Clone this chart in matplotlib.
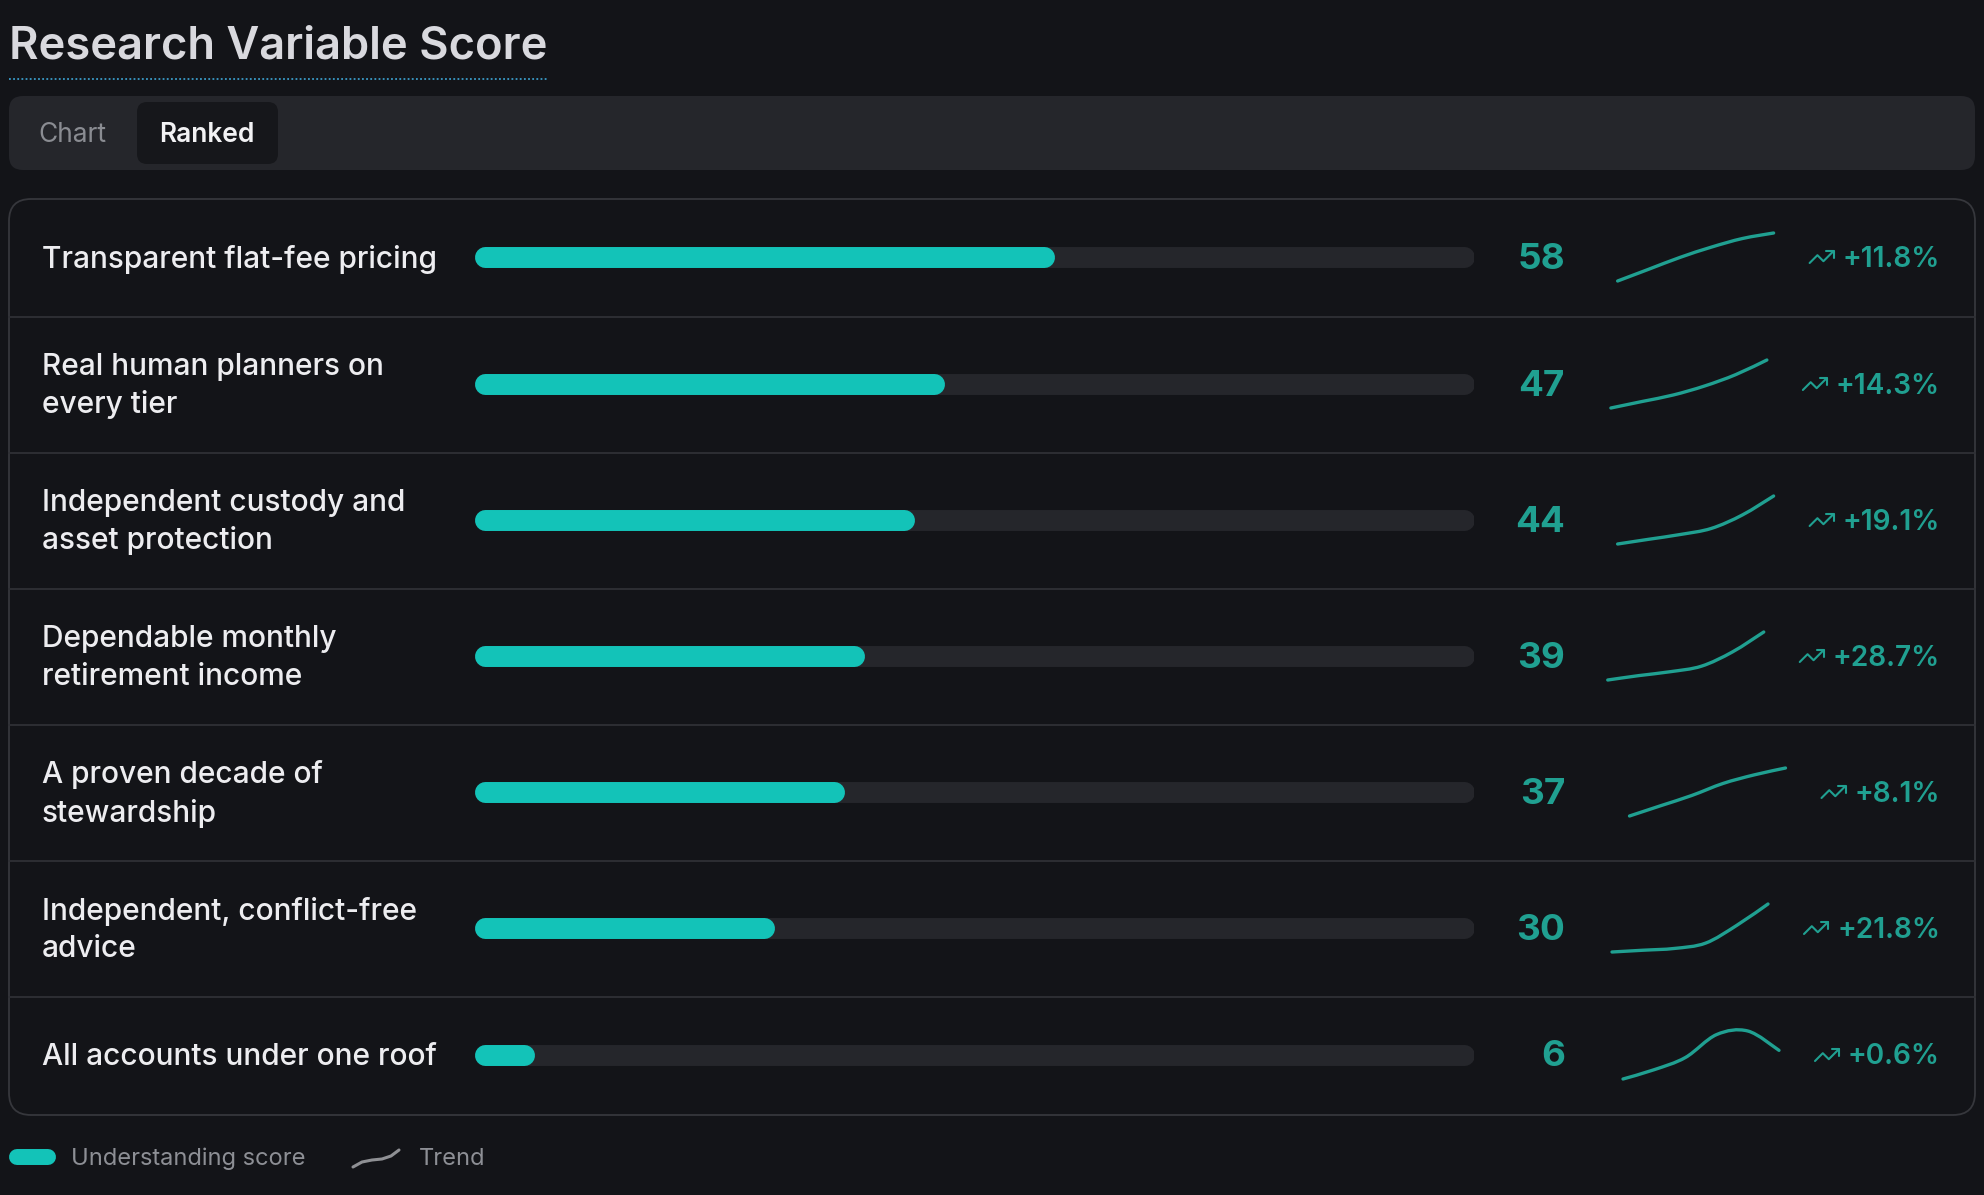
import numpy as np
import matplotlib.pyplot as plt
from matplotlib.patches import FancyBboxPatch, PathPatch
from matplotlib.path import Path

plt.rcParams['font.family'] = ['Inter', 'DejaVu Sans']

labels = ['Transparent flat-fee pricing',
          'Real human planners on every tier',
          'Independent custody and asset protection',
          'Dependable monthly retirement income',
          'A proven decade of stewardship',
          'Independent, conflict-free advice',
          'All accounts under one roof']
scores = [58, 47, 44, 39, 37, 30, 6]
changes = [11.8, 14.3, 19.1, 28.7, 8.1, 21.8, 0.6]

# trend history per row (6 periods, ends at current score)
trend_pricing = [51.9, 53.4, 54.9, 56.2, 57.3, 58.0]
trend_planners = [41.1, 41.9, 42.7, 43.8, 45.2, 47.0]
trend_custody = [36.9, 37.6, 38.3, 39.2, 41.2, 44.0]
trend_income = [30.3, 31.1, 31.8, 32.8, 35.4, 39.0]
trend_decade = [34.2, 34.8, 35.4, 36.1, 36.6, 37.0]
trend_advice = [24.6, 24.8, 25.0, 25.6, 27.6, 30.0]
trend_roof = [5.960, 5.973, 5.990, 6.022, 6.027, 6.000]
trends = [trend_pricing, trend_planners, trend_custody, trend_income,
          trend_decade, trend_advice, trend_roof]

BG = '#131418'
TRACK = '#25262b'
FILL = '#13c3b8'
TEAL = '#20a091'
W, H = 1984, 1195
DY = 2  # matplotlib 'center' sits a bit high vs the browser

fig = plt.figure(figsize=(W / 100, H / 100), dpi=100, facecolor=BG)
ax = fig.add_axes([0, 0, 1, 1])
ax.set_xlim(0, W)
ax.set_ylim(H, 0)
ax.axis('off')
r = fig.canvas.get_renderer()

# title + dotted underline
t = ax.text(9, 58, 'Research Variable Score', fontsize=32.6, fontweight='semibold',
            color='#d9d9de', va='baseline')
bb = t.get_window_extent(r)
ax.plot([9, bb.x1], [79, 79], ls=(0, (1, 1.3)), color='#3a9cc9', lw=1.3)

# tab bar
ax.add_patch(FancyBboxPatch((9, 96), 1966, 74, boxstyle='round,pad=0,rounding_size=14',
                            fc='#25262b', ec='none'))
ax.add_patch(FancyBboxPatch((137, 102), 141, 62, boxstyle='round,pad=0,rounding_size=10',
                            fc='#16171b', ec='none'))
ax.text(72, 133 + DY, 'Chart', ha='center', va='center', fontsize=19, color='#8a8c92')
ax.text(207, 133 + DY, 'Ranked', ha='center', va='center', fontsize=19, color='#f2f2f4',
        fontweight='semibold')


def wrap_px(s, maxw=408, size=21.5):
    # greedy wrap on measured pixel width
    lines, cur = [], ''
    for w in s.split():
        test = (cur + ' ' + w).strip()
        tmp = ax.text(0, 0, test, fontsize=size, fontweight='medium')
        wid = tmp.get_window_extent(r).width
        tmp.remove()
        if wid > maxw and cur:
            lines.append(cur)
            cur = w
        else:
            cur = test
    lines.append(cur)
    return lines


def smooth(xs, ys):
    # catmull-rom through the points, as cubic beziers
    pts = np.column_stack([xs, ys]).astype(float)
    n = len(pts)
    verts, codes = [pts[0]], [Path.MOVETO]
    for i in range(n - 1):
        p0, p1 = pts[max(i - 1, 0)], pts[i]
        p2, p3 = pts[i + 1], pts[min(i + 2, n - 1)]
        verts += [p1 + (p2 - p0) / 6, p2 - (p3 - p1) / 6, p2]
        codes += [Path.CURVE4] * 3
    return Path(verts, codes)


wrapped = [wrap_px(l) for l in labels]
heights = np.array([118 if len(w) == 1 else 136 for w in wrapped])
top = 199
tops = top + np.concatenate([[0], np.cumsum(heights)[:-1]])
centers = tops + heights / 2 - 1
bottom = top + heights.sum()

# panel
ax.add_patch(FancyBboxPatch((9, top), 1966, bottom - top, boxstyle='round,pad=0,rounding_size=22',
                            fc=BG, ec='#36373c', lw=1.3))
for y in tops[1:]:
    ax.plot([9, 1975], [y, y], color='#2f3035', lw=1.3)

# bars
bax = fig.add_axes([474 / W, 0, 1000 / W, 1])
bax.set_xlim(0, 100)
bax.set_ylim(H, 0)
bax.axis('off')
cap = 10.5 / 1000 * 100
for yc, s in zip(centers, scores):
    bax.plot([cap, 100 - cap], [yc, yc], color=TRACK, lw=15.1, solid_capstyle='round')
    bax.plot([cap, s - cap], [yc, yc], color=FILL, lw=15.1, solid_capstyle='round')

# lucide trending-up icon (24 grid)
icon_a = [(22, 7), (13.5, 15.5), (8.5, 10.5), (2, 17)]
icon_b = [(16, 7), (22, 7), (22, 13)]

for i, yc in enumerate(centers):
    ax.text(42, yc + DY, '\n'.join(wrapped[i]), fontsize=21.5, fontweight='medium',
            color='#ededf0', va='center', ha='left', linespacing=1.42)
    ax.text(1565, yc + DY, str(scores[i]), ha='right', va='center', fontsize=26.5,
            fontweight='bold', color=TEAL)
    tt = ax.text(1940, yc + DY, f'+{changes[i]}%', ha='right', va='center', fontsize=20.2,
                 fontweight='semibold', color=TEAL)
    x_text = tt.get_window_extent(r).x0
    sc = 1.2
    left = x_text - 9 - 20 * sc
    for pts in (icon_a, icon_b):
        ax.plot([left + (u - 2) * sc for u, v in pts], [yc + (v - 12) * sc for u, v in pts],
                color=TEAL, lw=1.5, solid_capstyle='round', solid_joinstyle='round')
    # sparkline
    x1 = left - 36
    x0 = x1 - 156
    tr = trends[i]
    sax = fig.add_axes([x0 / W, 1 - (yc + 24) / H, 156 / W, 48 / H])
    sax.axis('off')
    sax.add_patch(PathPatch(smooth(range(len(tr)), tr), fill=False, ec=TEAL, lw=2.4,
                            capstyle='round', joinstyle='round', clip_on=False))
    sax.set_xlim(0, len(tr) - 1)
    sax.set_ylim(min(tr), max(tr))

# legend
ax.plot([17, 48], [1157, 1157], color=FILL, lw=11.5, solid_capstyle='round')
ax.text(71, 1157 + DY, 'Understanding score', va='center', fontsize=17, color='#8d8f95')
ax.plot([353, 362, 372, 382, 391, 399], [1167, 1162, 1160, 1159, 1156, 1150],
        color='#8f9094', lw=2.2, solid_capstyle='round')
ax.text(419, 1157 + DY, 'Trend', va='center', fontsize=17, color='#8d8f95')

fig.savefig('out.png', dpi=100, facecolor=BG)
